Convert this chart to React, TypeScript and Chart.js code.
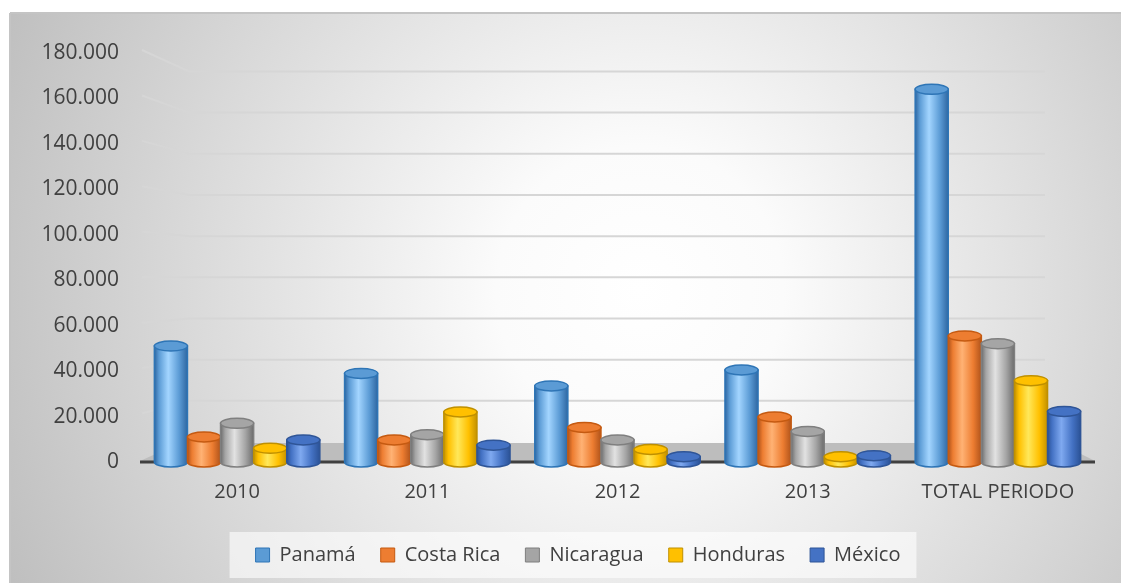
import React, { useEffect, useRef } from 'react';
import { Chart, registerables } from 'chart.js';

Chart.register(...registerables);

const categories = ['2010', '2011', '2012', '2013', 'TOTAL PERIODO'];
const seriesNames = ['Panamá', 'Costa Rica', 'Nicaragua', 'Honduras', 'México'];
const panama = [51000, 39000, 33500, 40500, 164000];
const costaRica = [11000, 9700, 15200, 19800, 55500];
const nicaragua = [17000, 12000, 9700, 13400, 52000];
const honduras = [6000, 22000, 5500, 2300, 35800];
const mexico = [9700, 7400, 2300, 2800, 22200];
const yTicks = [0, 20000, 40000, 60000, 80000, 100000, 120000, 140000, 160000, 180000];

const baseColors = ['#5b9bd5', '#ed7d31', '#a5a5a5', '#ffc000', '#4472c4'];
const lightColors = ['#a3d5ff', '#ffb274', '#e2e2e2', '#ffe85a', '#7fa9f0'];
const darkColors = ['#2f67a2', '#b0531a', '#6c6c6c', '#c49200', '#2b5296'];
const edgeColors = ['#2e75b6', '#c55a11', '#7f7f7f', '#bf9000', '#2f5597'];

const FONT = 'Open Sans';

function fmt(v: number): string {
  return String(v).replace(/\B(?=(\d{3})+(?!\d))/g, '.');
}

const bgPlugin = {
  id: 'bg',
  beforeDraw(chart: any) {
    const ctx = chart.ctx;
    ctx.save();
    const g = ctx.createRadialGradient(640, 290, 0, 640, 290, 720);
    g.addColorStop(0, '#ffffff');
    g.addColorStop(0.2, '#fbfbfb');
    g.addColorStop(1, '#bcbcbc');
    ctx.fillStyle = g;
    ctx.fillRect(10, 13, 1111, 570);
    ctx.strokeStyle = '#c4c4c4';
    ctx.lineWidth = 2;
    ctx.beginPath();
    ctx.moveTo(10, 13);
    ctx.lineTo(1121, 13);
    ctx.moveTo(10, 13);
    ctx.lineTo(10, 583);
    ctx.stroke();
    const lg = chart.legend;
    if (lg && lg.legendHitBoxes && lg.legendHitBoxes.length) {
      const hb = lg.legendHitBoxes;
      let minX = Infinity, maxX = -Infinity, minY = Infinity, maxY = -Infinity;
      hb.forEach((b: any) => {
        minX = Math.min(minX, b.left);
        maxX = Math.max(maxX, b.left + b.width);
        minY = Math.min(minY, b.top);
        maxY = Math.max(maxY, b.top + b.height);
      });
      const cy = (minY + maxY) / 2;
      ctx.fillStyle = 'rgba(255,255,255,0.6)';
      ctx.fillRect(minX - 26, cy - 23, maxX - minX + 42, 46);
    }
    ctx.restore();
  },
  beforeDatasetsDraw(chart: any) {
    const ctx = chart.ctx;
    const ys = chart.scales.y;
    const { left, right, bottom } = chart.chartArea;
    const zeroFront = ys.getPixelForValue(0);
    const zeroBack = zeroFront - 20;
    const k = 0.906;
    ctx.save();
    // back wall gridlines
    ctx.strokeStyle = '#d6d6d6';
    ctx.lineWidth = 2;
    ys.ticks.forEach((t: any) => {
      if (t.value === 0) return;
      const yf = ys.getPixelForValue(t.value);
      const yb = zeroBack - (zeroFront - yf) * k;
      ctx.beginPath();
      ctx.moveTo(left, yf - 3);
      ctx.lineTo(left + 47, yb);
      ctx.lineTo(right - 48, yb);
      ctx.stroke();
    });
    // floor
    ctx.fillStyle = '#bdbdbd';
    ctx.beginPath();
    ctx.moveTo(left - 2, bottom - 1);
    ctx.lineTo(right + 2, bottom - 1);
    ctx.lineTo(right - 34, zeroBack + 1);
    ctx.lineTo(left + 38, zeroBack + 1);
    ctx.closePath();
    ctx.fill();
    ctx.strokeStyle = '#404040';
    ctx.lineWidth = 3;
    ctx.beginPath();
    ctx.moveTo(left - 2, bottom);
    ctx.lineTo(right + 2, bottom);
    ctx.stroke();
    ctx.restore();
  },
  afterDatasetsDraw(chart: any) {
    const ctx = chart.ctx;
    ctx.save();
    chart.data.datasets.forEach((ds: any, i: number) => {
      const meta = chart.getDatasetMeta(i);
      meta.data.forEach((el: any) => {
        const x = el.x, top = el.y, base = el.base, w = el.width;
        const rx = w / 2;
        const ry = 5;
        const l = x - rx, r = x + rx;
        const g = ctx.createLinearGradient(l, 0, r, 0);
        g.addColorStop(0, darkColors[i]);
        g.addColorStop(0.14, baseColors[i]);
        g.addColorStop(0.42, lightColors[i]);
        g.addColorStop(0.75, baseColors[i]);
        g.addColorStop(1, darkColors[i]);
        ctx.beginPath();
        ctx.moveTo(l, top);
        ctx.lineTo(l, base);
        ctx.ellipse(x, base, rx, ry, 0, Math.PI, 0, true);
        ctx.lineTo(r, top);
        ctx.closePath();
        ctx.fillStyle = g;
        ctx.fill();
        ctx.strokeStyle = edgeColors[i];
        ctx.lineWidth = 1.5;
        ctx.stroke();
        ctx.beginPath();
        ctx.ellipse(x, top, rx, ry, 0, 0, Math.PI * 2);
        ctx.fillStyle = baseColors[i];
        ctx.fill();
        ctx.strokeStyle = edgeColors[i];
        ctx.stroke();
      });
    });
    ctx.restore();
  },
};

export default function App() {
  const ref = useRef<HTMLCanvasElement | null>(null);
  useEffect(() => {
    if (!ref.current) return;
    const series = [panama, costaRica, nicaragua, honduras, mexico];
    const chart = new Chart(ref.current, {
      type: 'bar',
      data: {
        labels: categories,
        datasets: series.map((d, i) => ({
          label: seriesNames[i],
          data: d,
          backgroundColor: baseColors[i],
          borderColor: edgeColors[i],
          borderWidth: 1,
          categoryPercentage: 0.87,
          barPercentage: 1,
        })),
      },
      options: {
        responsive: false,
        animation: false,
        layout: { padding: { top: 53, left: 40, right: 5, bottom: 8 } },
        plugins: {
          tooltip: { enabled: false },
          legend: {
            position: 'bottom',
            labels: {
              boxWidth: 14,
              boxHeight: 14,
              padding: 25,
              color: '#404040',
              font: { family: FONT, size: 20 },
            },
          },
        },
        scales: {
          x: {
            grid: { display: false, drawTicks: false },
            border: { display: false },
            ticks: { color: '#404040', padding: 18, font: { family: FONT, size: 20 } },
            afterFit: (s: any) => { s.height = 58; },
          },
          y: {
            min: 0,
            max: 180000,
            grid: { display: false, drawTicks: false },
            border: { display: false },
            afterBuildTicks: (s: any) => { s.ticks = yTicks.map((v) => ({ value: v })); },
            ticks: {
              color: '#404040',
              padding: 23,
              font: { family: FONT, size: 21 },
              callback: (v: any) => fmt(Number(v)),
            },
            afterFit: (s: any) => { s.width = 102; },
          },
          yRight: {
            type: 'linear',
            position: 'right',
            display: true,
            grid: { display: false, drawTicks: false },
            border: { display: false },
            ticks: { display: false },
            afterFit: (s: any) => { s.width = 23; },
          },
        },
      },
      plugins: [bgPlugin],
    });
    return () => chart.destroy();
  }, []);
  return (
    <div style={{ position: 'absolute', left: 0, top: 0, width: 1121, height: 583 }}>
      <canvas ref={ref} width={1121} height={583} />
    </div>
  );
}
